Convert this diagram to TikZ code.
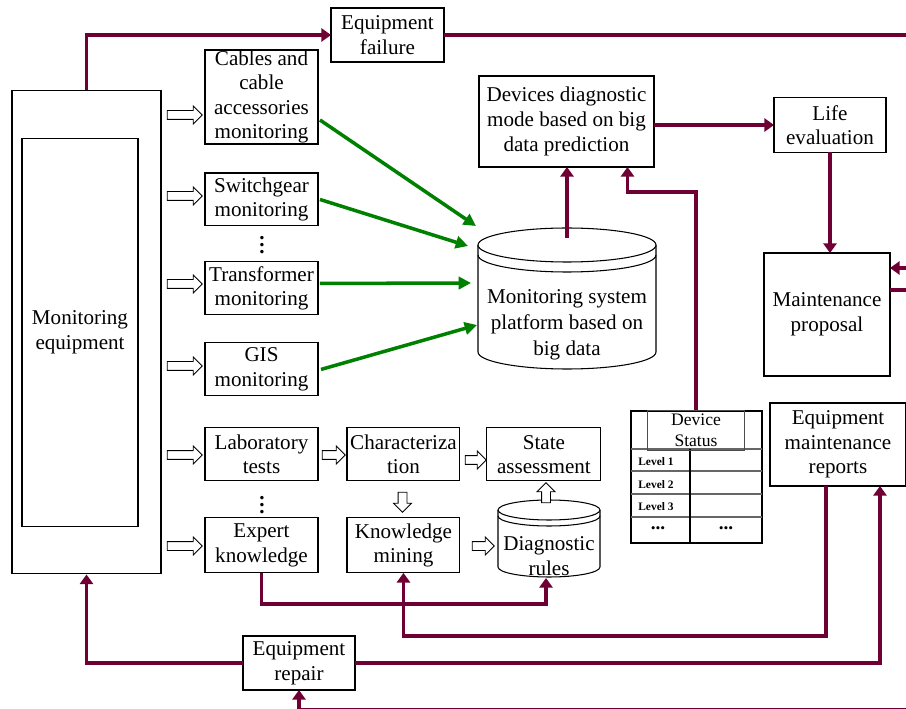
\documentclass[tikz,border=0pt]{standalone}
\usepackage{fontspec}
\setmainfont{Liberation Serif}
\usetikzlibrary{shapes.arrows, positioning, calc, arrows.meta}

\definecolor{wine}{RGB}{110,0,52}
\definecolor{leaf}{RGB}{0,128,0}

\tikzset{
  box/.style={draw, line width=0.6pt, align=center, fill=white, inner sep=0pt, outer sep=0pt,
    minimum width=2.26cm, minimum height=1.06cm, font=\fontsize{12}{14}\selectfont},
  hollow/.style={single arrow, draw, fill=white, line width=0.5pt, inner sep=0.08cm,
    minimum height=0.7cm, single arrow head extend=0.09cm},
  wire/.style={draw=wine, line width=2.2pt},
  tip/.style={-{Triangle[length=5.5pt,width=7.5pt]}},
  feed/.style={draw=leaf, line width=2pt, -{Triangle[length=7pt,width=7pt]}},
  lvl/.style={font=\bfseries\fontsize{6.5}{7}\selectfont, inner sep=0pt},
  gap/.style={font=\bfseries\fontsize{12}{12}\selectfont, inner sep=0pt}
}

% database drum: centre x, rim y, half width, rim radius, body height, second rim offset
\newcommand{\drum}[6]{%
  \draw[line width=0.6pt, fill=white] ($(#1,#2)+(-#3,0pt)$) -- ++(0,#5)
    arc[start angle=180, end angle=360, x radius=#3, y radius=#4] -- ++(0,-#5);
  \draw[line width=0.6pt, fill=white] (#1,#2) ellipse [x radius=#3, y radius=#4];
  \draw[line width=0.6pt] ($(#1,#2)+(-#3,0pt)+(0,#6)$)
    arc[start angle=180, end angle=360, x radius=#3, y radius=#4];
}

\begin{document}
\begin{tikzpicture}[x=0.02cm, y=-0.02cm]
\useasboundingbox (0,0) rectangle (906,709);
\clip (0,0) rectangle (906,709);

% monitoring equipment
\node[draw, line width=0.6pt, minimum width=2.98cm, minimum height=9.68cm] (mon) at (86.5,332) {};
\node[box, minimum width=2.32cm, minimum height=7.78cm] (mon-in) at (80,332.5) {Monitoring\\equipment};

% monitoring branches
\node[box, minimum height=1.88cm, font=\fontsize{12}{13.8}\selectfont] (cables) at (261.5,97) {Cables and\\cable\\accessories\\monitoring};
\node[box, below=0.58cm of cables] (switch) {Switchgear\\monitoring};
\node[box, below=0.72cm of switch] (trans) {Transformer\\monitoring};
\node[box, below=0.56cm of trans] (gis) {GIS\\monitoring};
\node[box, below=0.64cm of gis] (lab) {Laboratory\\tests};
\node[box, below=0.74cm of lab, minimum height=1.1cm] (expert) {Expert\\knowledge};
\node[gap] (dots1) at (262,240) {\vdots};
\node[gap] (dots2) at (262,500) {\vdots};

\node[box, right=0.58cm of lab] (char) {Characteriza\\tion};
\node[box, right=0.58cm of expert, minimum height=1.1cm] (kmine) {Knowledge\\mining};
\node[box, right=0.54cm of char, minimum width=2.28cm] (state) {State\\assessment};

% top and right
\node[box, minimum height=1.08cm] (failure) at (387.5,35) {Equipment\\failure};
\node[box, minimum width=3.5cm, minimum height=1.82cm] (devdiag) at (566.5,121.5) {Devices diagnostic\\mode based on big\\data prediction};
\node[box, minimum width=2.24cm, minimum height=1.1cm] (life) at (830,125) {Life\\evaluation};
\node[box, minimum width=2.52cm, minimum height=2.46cm] (maint) at (827,314.5) {Maintenance\\proposal};
\node[box, minimum width=2.72cm, minimum height=1.66cm] (reports) at (838,444.5) {Equipment\\maintenance\\reports};
\node[box, minimum width=2.24cm, minimum height=1.08cm] (repair) at (299,663) {Equipment\\repair};

% databases
\drum{567}{245}{1.78cm}{0.34cm}{107}{10}
\node[align=center, font=\fontsize{12}{14.7}\selectfont] (platform) at (567,325) {Monitoring system\\platform based on\\big data};
\drum{549}{510}{1.02cm}{0.2cm}{57}{6}
\node[align=center, inner sep=0pt, font=\fontsize{12}{14.2}\selectfont] (rules) at (549,556) {Diagnostic\\rules};

% device status table
\draw[line width=0.8pt] (631,411) rectangle (762,543);
\foreach \y in {449,471,494,517}
  \draw[black!60, line width=1.2pt] (631,\y) -- (762,\y);
\draw[line width=0.9pt] (690,449) -- (690,543);
\node[draw=black!70, line width=0.5pt, minimum width=1.94cm, minimum height=0.8cm, inner sep=0pt,
  align=center, font=\fontsize{10}{12}\selectfont] (status) at (696,430) {Device\\Status};
\foreach \n in {1,2,3}
  \node[lvl, anchor=west] (level\n) at (638, 439.5+22.5*\n) {Level \n};
\node[lvl, font=\bfseries\fontsize{11}{11}\selectfont] (more1) at (658,528) {...};
\node[lvl, font=\bfseries\fontsize{11}{11}\selectfont] (more2) at (726,528) {...};

% hollow arrows
\foreach \y [count=\i] in {115,196,284,366,455,546}
  \node[hollow] (in\i) at (182.5,\y) {};
\node[hollow, minimum height=0.46cm] (h1) at (331.5,455) {};
\node[hollow, minimum height=0.42cm] (h2) at (473.5,460) {};
\node[hollow, minimum height=0.4cm, rotate=-90] (h3) at (402.5,500) {};
\node[hollow, minimum height=0.44cm] (h4) at (481,546) {};
\node[hollow, minimum height=0.4cm, rotate=90] (h5) at (546,495) {};

% free ends
\coordinate (pin1) at (476,226);
\coordinate (pin2) at (468,246);
\coordinate (pin3) at (471,283);
\coordinate (pin4) at (477,325);
\coordinate (dbtop) at (567,238);
\coordinate (rulesbot) at (546,578);
\coordinate (outA) at (920,35);
\coordinate (inB) at (920,268);
\coordinate (outC) at (920,290);
\coordinate (inD) at (920,710);

% data to platform
\draw[feed] ($(cables.east)+(2,23)$) -- (pin1);
\draw[feed] ($(switch.east)+(2,0)$) -- (pin2);
\draw[feed] ($(trans.east)+(2,-5)$) -- (pin3);
\draw[feed] ($(gis.east)+(3,0)$) -- (pin4);

% maintenance loop
\draw[wire, tip] (mon.north) |- (failure.west);
\draw[wire] (failure.east) -- (outA);
\draw[wire, tip] (dbtop) -- (dbtop |- devdiag.south);
\draw[wire, tip] (status.north) |- ($(devdiag.south)+(61,25)$) -- ($(devdiag.south)+(61,0)$);
\draw[wire, tip] (devdiag.east |- life.west) -- (life.west);
\draw[wire, tip] (life.south) -- (life.south |- maint.north);
\draw[wire, tip] (inB) -- (inB -| maint.east);
\draw[wire] (maint.east |- outC) -- (outC);
\draw[wire, tip] (expert.south) -- ++(0,31) -| (rulesbot);
\draw[wire, tip] ($(reports.south)+(-12,0)$) -- ++(0,150) -| (kmine.south);
\draw[wire, tip] (repair.west) -| (mon.south);
\draw[wire, tip] (repair.east) -| ($(reports.south)+(42,0)$);
\draw[wire, tip] (inD) -| (repair.south);
\end{tikzpicture}
\end{document}
